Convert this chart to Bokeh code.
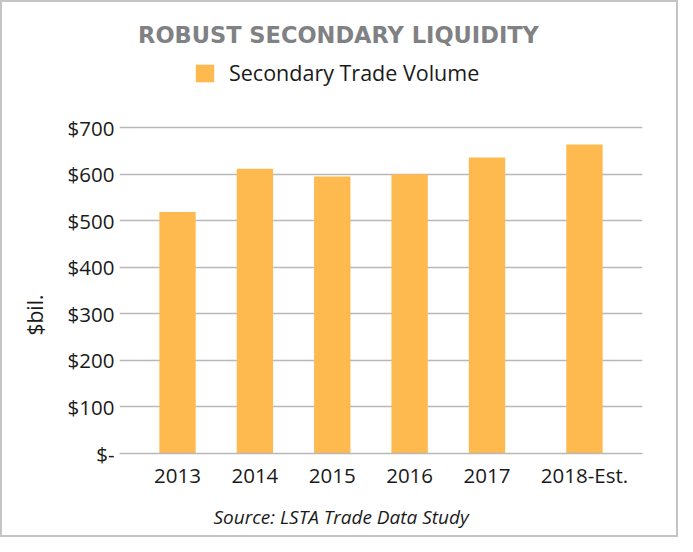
from bokeh.plotting import figure
from bokeh.models import FactorRange, Range1d, FixedTicker, Label, Legend, LegendItem, ColumnDataSource, Title
from bokeh.embed import file_html
from bokeh.resources import INLINE

# ---- data ----
years = ["2013", "2014", "2015", "2016", "2017", "2018-Est."]
groups = ["Actual", "Actual", "Actual", "Actual", "Actual", "Estimate"]
volume = [519, 612, 595, 600, 636, 664]
y_ticks = [0, 100, 200, 300, 400, 500, 600, 700]
y_tick_labels = ["$-", "$100", "$200", "$300", "$400", "$500", "$600", "$700"]
title_text = "ROBUST SECONDARY LIQUIDITY"
series_name = "Secondary Trade Volume"
y_label = "$bil."
source_text = "Source: LSTA Trade Data Study"

FONT = "Open Sans"
BAR = "#FFBA4F"
GRID = "#b8b8b8"
TXT = "#1a1a1a"

factors = list(zip(groups, years))
src = ColumnDataSource(dict(x=factors, v=volume))

x_range = FactorRange(*factors, factor_padding=0.0, group_padding=0.26,
                      range_padding=0.25, range_padding_units="absolute")

# layout (page pixels)
W, H = 678, 537
ML, MR, MT, MB = 117, 38, 10, 85
BORDER = 2
frame_left = 8 + BORDER + ML
frame_top = 8 + BORDER + MT
frame_bottom = 460
Y_TOP = 700 * (frame_bottom - frame_top) / 325.0   # empty headroom for title/legend

p = figure(x_range=x_range, y_range=Range1d(0, Y_TOP), width=W, height=H,
           output_backend="svg", toolbar_location=None,
           min_border_left=ML, min_border_right=MR, min_border_top=MT, min_border_bottom=MB)
p.styles = {"border": "2px solid #c4c4c4", "box-sizing": "border-box"}
p.outline_line_color = None
p.background_fill_color = "white"
p.border_fill_color = "white"

r = p.vbar(x="x", top="v", width=0.47, source=src, fill_color=BAR, line_color=None)

# axes
p.xgrid.grid_line_color = None
p.ygrid.grid_line_color = GRID
p.ygrid.grid_line_width = 1.5
p.yaxis.ticker = FixedTicker(ticks=y_ticks)
p.yaxis.major_label_overrides = {t: l for t, l in zip(y_ticks, y_tick_labels)}
p.yaxis.axis_line_color = None
p.yaxis.major_tick_line_color = None
p.yaxis.minor_tick_line_color = None
p.yaxis.major_tick_out = 0
p.yaxis.major_label_text_font = FONT
p.yaxis.major_label_text_font_size = "20.5px"
p.yaxis.major_label_text_color = TXT
p.yaxis.major_label_standoff = 5

p.xaxis.axis_line_color = GRID
p.xaxis.axis_line_width = 1.5
p.xaxis.major_tick_line_color = None
p.xaxis.minor_tick_line_color = None
p.xaxis.major_tick_out = 0
p.xaxis.major_label_text_font = FONT
p.xaxis.major_label_text_font_size = "20.5px"
p.xaxis.major_label_text_color = TXT
p.xaxis.major_label_standoff = 7
p.xaxis.group_text_font_size = "0px"
p.xaxis.group_text_color = None
p.xaxis.separator_line_color = None

# y-axis caption as a side title, placed on the lower half like the reference
p.add_layout(Title(text=y_label, align="left", offset=frame_bottom - 342, standoff=32,
                   text_font=FONT, text_font_size="21px", text_font_style="normal",
                   text_color=TXT), "left")

# title and legend in the headroom of the frame (frame-relative screen units)
p.add_layout(Label(x=346 - frame_left, y=frame_bottom - 41, x_units="screen", y_units="screen",
                   text=title_text, text_font="DejaVu Sans", text_font_size="22.5px",
                   text_font_style="bold", text_color="#7f8184",
                   text_align="center", text_baseline="middle"))

legend = Legend(items=[LegendItem(label=series_name, renderers=[r])],
                location=(201 - frame_left, frame_bottom - 94), orientation="horizontal",
                glyph_width=23, glyph_height=22, label_standoff=13,
                label_text_font=FONT, label_text_font_size="21.5px", label_text_color=TXT,
                padding=0, margin=0, border_line_color=None, background_fill_alpha=0)
p.add_layout(legend, "center")

# source note below the axis
p.add_layout(Title(text=source_text, align="left", offset=221 - frame_left, standoff=20,
                   text_font=FONT, text_font_size="19px", text_font_style="italic",
                   text_color=TXT), "below")

open("out.html", "w").write(file_html(p, INLINE))
